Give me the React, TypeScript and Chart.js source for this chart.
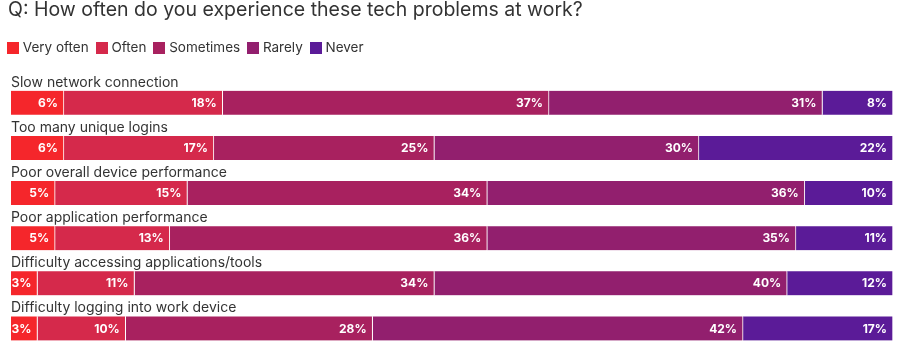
import React, { useEffect, useRef } from "react";
import { Chart, registerables } from "chart.js";

Chart.register(...registerables);

const TITLE = "Q: How often do you experience these tech problems at work?";
const categories = [
  "Slow network connection",
  "Too many unique logins",
  "Poor overall device performance",
  "Poor application performance",
  "Difficulty accessing applications/tools",
  "Difficulty logging into work device",
];
const seriesNames = ["Very often", "Often", "Sometimes", "Rarely", "Never"];
const seriesColors = ["#f5262b", "#d5294b", "#a8215f", "#921f6e", "#5b1b98"];
const veryOften = [6, 6, 5, 5, 3, 3];
const often = [18, 17, 15, 13, 11, 10];
const sometimes = [37, 25, 34, 36, 34, 28];
const rarely = [31, 30, 36, 35, 40, 42];
const never = [8, 22, 10, 11, 12, 17];
const seriesValues = [veryOften, often, sometimes, rarely, never];

const FONT = "Inter, 'Noto Sans', sans-serif";

function makeSwatch(color: string) {
  const c = document.createElement("canvas");
  c.width = 12;
  c.height = 12;
  const g = c.getContext("2d")!;
  g.fillStyle = color;
  g.fillRect(0, 0, 12, 12);
  return c;
}

const labelsPlugin = {
  id: "barLabels",
  afterLayout(chart: any) {
    if (chart.legend) {
      chart.legend.left -= 8;
    }
  },
  afterDatasetsDraw(chart: any) {
    const ctx = chart.ctx;
    ctx.save();
    ctx.font = `bold 12px ${FONT}`;
    ctx.fillStyle = "#ffffff";
    ctx.textAlign = "right";
    ctx.textBaseline = "middle";
    chart.data.datasets.forEach((ds: any, di: number) => {
      const meta = chart.getDatasetMeta(di);
      meta.data.forEach((el: any, i: number) => {
        const v = ds.data[i];
        ctx.fillText(`${v}%`, el.x - 6, el.y + 0.5);
      });
    });
    const meta0 = chart.getDatasetMeta(0);
    ctx.font = `14px ${FONT}`;
    ctx.fillStyle = "#333333";
    ctx.textAlign = "left";
    ctx.textBaseline = "alphabetic";
    meta0.data.forEach((el: any, i: number) => {
      const top = el.y - el.height / 2;
      ctx.fillText(categories[i], chart.chartArea.left, top - 4);
    });
    ctx.restore();
  },
};

export default function App() {
  const ref = useRef<HTMLCanvasElement>(null);
  useEffect(() => {
    let chart: any = null;
    let cancelled = false;
    const build = () => {
      if (cancelled || !ref.current) return;
      const swatches = seriesColors.map(makeSwatch);
      chart = new Chart(ref.current, {
        type: "bar",
        data: {
          labels: categories,
          datasets: seriesNames.map((name, i) => ({
            label: name,
            data: seriesValues[i],
            backgroundColor: seriesColors[i],
            borderColor: "#ffffff",
            borderWidth: { top: 0, bottom: 0, left: 0, right: 1 },
            borderSkipped: false,
            barThickness: 24,
          })),
        },
        plugins: [labelsPlugin],
        options: {
          indexAxis: "y",
          animation: false,
          responsive: true,
          maintainAspectRatio: false,
          layout: { padding: { left: 8, right: 6, top: 0, bottom: 0 } },
          scales: {
            x: {
              stacked: true,
              min: 0,
              max: 100,
              position: "top",
              grid: { display: false },
              border: { display: false },
              ticks: { display: false },
              afterFit: (s: any) => {
                s.height = 16;
              },
            },
            y: {
              stacked: true,
              grid: { display: false },
              border: { display: false },
              ticks: { display: false },
              afterFit: (s: any) => {
                s.width = 3;
              },
            },
          },
          plugins: {
            tooltip: { enabled: false },
            title: {
              display: true,
              text: TITLE,
              align: "start",
              color: "#333333",
              font: { family: FONT, size: 19.5, weight: "normal" },
              padding: { top: -1.5, bottom: 8.85 },
            },
            legend: {
              display: true,
              align: "start",
              labels: {
                usePointStyle: true,
                boxWidth: 6,
                boxHeight: 12,
                padding: 10,
                color: "#333333",
                font: { family: FONT, size: 13.5 },
                generateLabels: (c: any) => {
                  const items = (Chart.defaults.plugins.legend.labels as any).generateLabels(c);
                  return items.map((it: any, i: number) => ({
                    ...it,
                    pointStyle: swatches[i],
                    lineWidth: 0,
                  }));
                },
              },
            },
          },
        },
      } as any);
    };
    const fonts: any = (document as any).fonts;
    if (fonts && fonts.load) {
      Promise.all([
        fonts.load("19.5px Inter"),
        fonts.load("14px Inter"),
        fonts.load("bold 12px Inter"),
      ])
        .catch(() => null)
        .then(build);
    } else {
      build();
    }
    return () => {
      cancelled = true;
      if (chart) chart.destroy();
    };
  }, []);
  return (
    <div style={{ position: "fixed", left: 0, top: 0, width: 899, height: 351 }}>
      <canvas ref={ref} />
    </div>
  );
}
